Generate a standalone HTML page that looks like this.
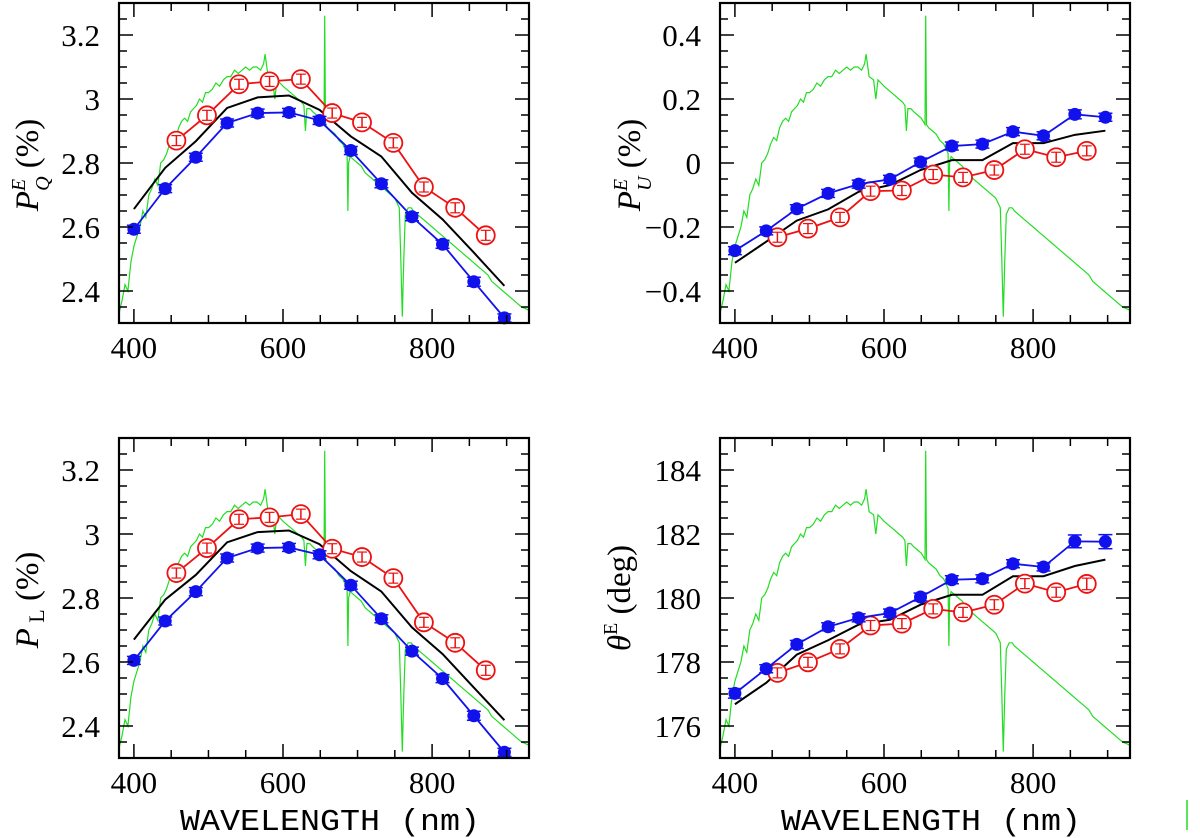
<!DOCTYPE html>
<html><head><meta charset="utf-8"><style>
html,body{margin:0;padding:0;background:#fff;width:1200px;height:838px;overflow:hidden}
svg text{font-family:"Liberation Serif",serif;fill:#000}
</style></head><body>
<svg id="fig" width="1200" height="838" viewBox="0 0 1200 838" xmlns="http://www.w3.org/2000/svg"></svg>
<script>
// ---- data ----
const blueWl = [400,442,483,525,566,608,649,691,732,773,814,856,897];
const redWl = [457,498,541,582,624,666,706,748,789,831,872];
const blackWl = [400,442,483,525,566,608,649,691,732,773,814,856,897];

const pqBlue = [2.593,2.72,2.818,2.925,2.956,2.958,2.933,2.839,2.735,2.632,2.546,2.429,2.316];
const pqRed = [2.87,2.949,3.046,3.055,3.062,2.956,2.927,2.863,2.725,2.66,2.574];
const pqBlack = [2.656,2.785,2.868,2.972,3.005,3.011,2.966,2.883,2.82,2.707,2.624,2.52,2.416];

const puBlue = [-0.274,-0.212,-0.143,-0.095,-0.066,-0.051,0.003,0.053,0.059,0.098,0.085,0.152,0.143];
const puRed = [-0.232,-0.205,-0.17,-0.088,-0.086,-0.036,-0.045,-0.022,0.043,0.018,0.038];
const puBlack = [-0.312,-0.246,-0.18,-0.145,-0.09,-0.069,-0.022,0.009,0.009,0.062,0.062,0.088,0.101];

const plBlue = [2.605,2.728,2.82,2.925,2.956,2.958,2.935,2.84,2.735,2.634,2.548,2.432,2.318];
const plRed = [2.878,2.956,3.046,3.052,3.062,2.954,2.928,2.862,2.724,2.66,2.574];
const plBlack = [2.67,2.795,2.872,2.974,3.006,3.011,2.968,2.884,2.82,2.708,2.625,2.52,2.418];

const thBlue = [177.02,177.79,178.55,179.1,179.38,179.53,180.03,180.57,180.6,181.07,180.97,181.77,181.76];
const thRed = [177.66,177.99,178.41,179.14,179.2,179.66,179.55,179.79,180.45,180.18,180.44];
const thBlack = [176.68,177.35,178.23,178.68,179.17,179.32,179.79,180.1,180.1,180.68,180.68,181.0,181.2];

const blueErr = [0.012,0.008,0.008,0.008,0.008,0.008,0.008,0.01,0.01,0.01,0.012,0.014,0.012];
const redErr = [0.012,0.012,0.012,0.012,0.012,0.012,0.012,0.012,0.012,0.012,0.012];
const thBlueErr = [0.15,0.1,0.1,0.1,0.1,0.1,0.1,0.1,0.1,0.12,0.12,0.2,0.22];
const thRedErr = [0.1,0.1,0.1,0.1,0.1,0.1,0.1,0.1,0.12,0.12,0.18];

// spectrum (normalized flux, fraction of panel height)
const specWl = [380,384,388,392,396,400,404,408,412,416,420,424,428,432,436,440,444,448,452,456,460,464,468,472,476,480,484,488,492,496,500,505,510,515,520,525,530,535,540,545,550,555,560,565,570,574,576,580,586,589,592,596,600,605,610,615,620,625,628,630,632,636,640,645,650,655,656,657,660,665,670,675,680,686,687,688,690,695,700,705,710,715,720,725,730,735,740,745,750,756,758,760,762,764,768,772,775,780,785,790,795,800,805,810,815,820,825,830,835,840,845,850,855,860,865,870,875,880,885,890,895,900,905,910,915,920,925,930];
const specFlux = [0.03,0.07,0.12,0.1,0.19,0.24,0.27,0.3,0.35,0.33,0.4,0.42,0.45,0.43,0.5,0.51,0.53,0.56,0.58,0.57,0.61,0.63,0.64,0.63,0.66,0.67,0.68,0.7,0.69,0.72,0.72,0.73,0.75,0.74,0.76,0.77,0.77,0.79,0.78,0.79,0.8,0.79,0.8,0.8,0.79,0.81,0.84,0.77,0.76,0.7,0.76,0.75,0.74,0.73,0.72,0.71,0.7,0.69,0.68,0.6,0.67,0.67,0.66,0.65,0.64,0.62,0.96,0.62,0.61,0.6,0.59,0.57,0.56,0.53,0.35,0.5,0.52,0.51,0.5,0.49,0.47,0.46,0.45,0.44,0.43,0.42,0.41,0.4,0.39,0.36,0.2,0.02,0.2,0.34,0.36,0.36,0.35,0.34,0.33,0.32,0.31,0.3,0.29,0.28,0.27,0.26,0.25,0.24,0.23,0.22,0.21,0.2,0.19,0.18,0.17,0.16,0.15,0.13,0.12,0.11,0.1,0.09,0.08,0.07,0.06,0.05,0.045,0.04];

const svg = document.getElementById('fig');
const NS = 'http://www.w3.org/2000/svg';
function mk(tag, attrs, parent){const e=document.createElementNS(NS,tag);for(const k in attrs)e.setAttribute(k,attrs[k]);(parent||svg).appendChild(e);return e;}

const panels = [
 {id:'pq', x0:119,x1:529,y0:3,y1:323, ymin:2.3,ymax:3.3, major:0.2, minor:0.05, ticks:[2.4,2.6,2.8,3,3.2], tlab:['2.4','2.6','2.8','3','3.2'], blue:pqBlue, red:pqRed, black:pqBlack, be:blueErr, re:redErr, xt:false},
 {id:'pu', x0:720,x1:1130,y0:3,y1:323, ymin:-0.5,ymax:0.5, major:0.2, minor:0.05, ticks:[-0.4,-0.2,0,0.2,0.4], tlab:['−0.4','−0.2','0','0.2','0.4'], blue:puBlue, red:puRed, black:puBlack, be:blueErr, re:redErr, xt:false},
 {id:'pl', x0:119,x1:529,y0:438,y1:758, ymin:2.3,ymax:3.3, major:0.2, minor:0.05, ticks:[2.4,2.6,2.8,3,3.2], tlab:['2.4','2.6','2.8','3','3.2'], blue:plBlue, red:plRed, black:plBlack, be:blueErr, re:redErr, xt:true},
 {id:'theta', x0:720,x1:1130,y0:438,y1:758, ymin:175,ymax:185, major:2, minor:0.5, ticks:[176,178,180,182,184], tlab:['176','178','180','182','184'], blue:thBlue, red:thRed, black:thBlack, be:thBlueErr, re:thRedErr, xt:true}
];
const XMIN=380, XMAX=930;

panels.forEach(p=>{
 const g = mk('g',{});
 
 
 const X = w => p.x0 + (w-XMIN)/(XMAX-XMIN)*(p.x1-p.x0);
 const Y = v => p.y1 - (v-p.ymin)/(p.ymax-p.ymin)*(p.y1-p.y0);
 const clip = mk('clipPath',{id:'c'+p.id}, g);
 mk('rect',{x:p.x0,y:p.y0,width:p.x1-p.x0,height:p.y1-p.y0}, clip);
 let d='';
 specWl.forEach((w,i)=>{const y=p.y1-specFlux[i]*(p.y1-p.y0);d+=(i?'L':'M')+X(w).toFixed(1)+' '+y.toFixed(1);});
 const sp = mk('path',{d:d,fill:'none',stroke:'#22dd22','stroke-width':1.2,'clip-path':'url(#c'+p.id+')'}, g);
 
 
 const bl = mk('polyline',{points:blackWl.map((w,i)=>X(w)+','+Y(p.black[i])).join(' '),fill:'none',stroke:'#000','stroke-width':2}, g);
 
 
 const rl = mk('polyline',{points:redWl.map((w,i)=>X(w)+','+Y(p.red[i])).join(' '),fill:'none',stroke:'#ee1111','stroke-width':1.8}, g);
 
 
 redWl.forEach((w,i)=>{
  const cx=X(w), cy=Y(p.red[i]), e=Math.max(5,Math.abs(Y(p.red[i]+p.re[i])-cy));
  const c = mk('circle',{cx:cx,cy:cy,r:9,fill:'#fff',stroke:'#ee1111','stroke-width':1.8}, g);
  
  
  mk('line',{x1:cx,x2:cx,y1:cy-e,y2:cy+e,stroke:'#ee1111','stroke-width':1.5}, g);
  mk('line',{x1:cx-5,x2:cx+5,y1:cy-e,y2:cy-e,stroke:'#ee1111','stroke-width':1.2}, g);
  mk('line',{x1:cx-5,x2:cx+5,y1:cy+e,y2:cy+e,stroke:'#ee1111','stroke-width':1.2}, g);
 });
 const bll = mk('polyline',{points:blueWl.map((w,i)=>X(w)+','+Y(p.blue[i])).join(' '),fill:'none',stroke:'#1111ee','stroke-width':1.8}, g);
 
 
 blueWl.forEach((w,i)=>{
  const cx=X(w), cy=Y(p.blue[i]), e=Math.max(4,Math.abs(Y(p.blue[i]+p.be[i])-cy));
  mk('line',{x1:cx,x2:cx,y1:cy-e,y2:cy+e,stroke:'#1111ee','stroke-width':1.5}, g);
  mk('line',{x1:cx-7,x2:cx+7,y1:cy-e,y2:cy-e,stroke:'#1111ee','stroke-width':1.5}, g);
  mk('line',{x1:cx-7,x2:cx+7,y1:cy+e,y2:cy+e,stroke:'#1111ee','stroke-width':1.5}, g);
  const c = mk('circle',{cx:cx,cy:cy,r:6.5,fill:'#1111ee'}, g);
  
  
 });
 mk('rect',{x:p.x0,y:p.y0,width:p.x1-p.x0,height:p.y1-p.y0,fill:'none',stroke:'#000','stroke-width':2.2}, g);
 for(let w=400; w<=XMAX; w+=50){
  const x=X(w), L=(w%200===0)?14:8;
  mk('line',{x1:x,x2:x,y1:p.y1,y2:p.y1-L,stroke:'#000','stroke-width':1.5}, g);
  mk('line',{x1:x,x2:x,y1:p.y0,y2:p.y0+L,stroke:'#000','stroke-width':1.5}, g);
 }
 [400,600,800].forEach(w=>{
  const t = mk('text',{x:X(w),y:p.y1+35,'text-anchor':'middle','font-size':31}, g);
  t.textContent = w;
  
  
 });
 const n = Math.round((p.ymax-p.ymin)/p.minor);
 for(let k=0;k<=n;k++){
  const v=p.ymin+k*p.minor; const y=Y(v);
  const isMaj = Math.abs(v/p.major-Math.round(v/p.major))<1e-6;
  const L=isMaj?14:8;
  mk('line',{x1:p.x0,x2:p.x0+L,y1:y,y2:y,stroke:'#000','stroke-width':1.5}, g);
  mk('line',{x1:p.x1,x2:p.x1-L,y1:y,y2:y,stroke:'#000','stroke-width':1.5}, g);
 }
 p.ticks.forEach((v,i)=>{
  const t = mk('text',{x:p.x0-19,y:Y(v)+11,'text-anchor':'end','font-size':31}, g);
  t.textContent = p.tlab[i];
  
  
 });
 if(p.xt){
  const t = mk('text',{x:(p.x0+p.x1)/2+6,y:p.y1+72,'text-anchor':'middle','font-size':31,textLength:300,lengthAdjust:'spacingAndGlyphs','style':'font-family:"Liberation Mono",monospace'}, g);
  t.textContent = 'WAVELENGTH (nm)';
  
  
 }
});

function ytitle(cx, cy, html, name){
 const t = mk('text',{x:0,y:0,transform:'translate('+cx+','+cy+') rotate(-90)','text-anchor':'middle','font-size':33});
 t.innerHTML = html;
 
 
}
ytitle(38,165,'<tspan font-style="italic">P</tspan><tspan font-size="20" font-style="italic" dy="-13">E</tspan><tspan font-size="20" font-style="italic" dx="-12" dy="24">Q</tspan><tspan dy="-11"> (%)</tspan>','y-axis-title-pq');
ytitle(640,165,'<tspan font-style="italic">P</tspan><tspan font-size="20" font-style="italic" dy="-13">E</tspan><tspan font-size="20" font-style="italic" dx="-12" dy="24">U</tspan><tspan dy="-11"> (%)</tspan>','y-axis-title-pu');
ytitle(38,600,'<tspan font-style="italic">P</tspan><tspan font-size="22" dy="6"> L</tspan><tspan dy="-6"> (%)</tspan>','y-axis-title-pl');
ytitle(630,598,'<tspan font-style="italic">θ</tspan><tspan font-size="20" dy="-13">E</tspan><tspan dy="13"> (deg)</tspan>','y-axis-title-theta');

const gm = mk('line',{x1:1187,x2:1187,y1:800,y2:830,stroke:'#22dd22','stroke-width':1.5});


</script>
</body></html>
